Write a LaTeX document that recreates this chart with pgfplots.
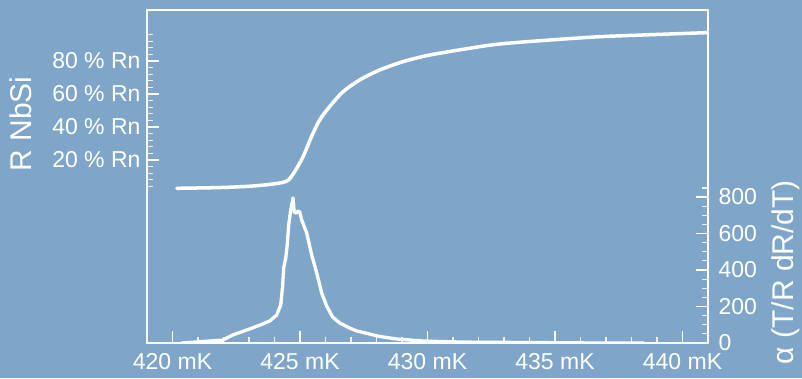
\documentclass[border=0pt]{standalone}
\usepackage{pgfplots}
\pgfplotsset{compat=1.18}
\usepackage{fontspec}
\setmainfont{Liberation Sans}
\definecolor{bg}{RGB}{127,166,201}
\begin{document}
\begin{tikzpicture}
\fill[bg] (0pt,0pt) rectangle (802pt,378pt);
\useasboundingbox (0pt,0pt) rectangle (802pt,378pt);
\pgfplotsset{
  common/.style={
    at={(147pt,35pt)}, anchor=south west, scale only axis,
    width=561pt, height=333pt,
    xmin=419, xmax=441,
    axis line style={white, line width=1.5pt},
    tick align=inside,
    major tick length=12pt, minor tick length=6pt,
    every major tick/.style={white, line width=1.5pt},
    every minor tick/.style={white!85!bg, line width=1.2pt},
    tick label style={white, font=\fontsize{23}{27}\selectfont},
  }
}
\begin{axis}[common,
  ymin=-90.9, ymax=110.9,
  xtick pos=lower, ytick pos=left,
  xtick={420,425,430,435,440},
  xticklabels={420 mK,425 mK,430 mK,435 mK,440 mK},
  minor xtick={421,422,423,424,426,427,428,429,431,432,433,434,436,437,438,439},
  ytick={20,40,60,80},
  yticklabels={20 \% Rn,40 \% Rn,60 \% Rn,80 \% Rn},
  minor ytick={4,8,12,16,24,28,32,36,44,48,52,56,64,68,72,76,84,88,92,96},
  xticklabel style={yshift=-7pt},
  yticklabel style={xshift=-3pt},
]
\addplot[white, line width=3.5pt, smooth, tension=0.5, line cap=round] coordinates {
(420.17,2.85) (421.85,3.3) (423.03,4.1) (423.81,5.2) (424.32,6.4) (424.55,7.9)
(424.79,12.9) (425.12,22.0) (425.45,34.1) (425.77,44.2) (426.16,52.3) (426.69,61.4)
(427.34,68.5) (428.12,74.5) (429.04,79.6) (430.08,83.6) (431.65,87.7) (432.83,90.3)
(434.78,92.7) (436.74,94.7) (438.70,95.9) (441.0,97.2)
};
\end{axis}
\begin{axis}[common,
  ymin=0, ymax=1825,
  axis x line=none, axis y line*=right,
  ytick={0,200,400,600,800},
  yticklabels={0,200,400,600,800},
  minor ytick={50,100,150,250,300,350,450,500,550,650,700,750,850},
  yticklabel style={xshift=7pt},
]
\addplot[white, line width=3.3pt, line join=round] coordinates {
(420.353,0) (421.071,7) (421.972,16) (422.363,44) (423.029,77) (423.538,104)
(423.813,121) (424.087,153) (424.244,208) (424.322,318) (424.361,411) (424.440,466)
(424.499,537) (424.557,647) (424.636,729) (424.726,795) (424.773,718) (424.859,712)
(424.922,723) (424.988,718) (425.067,674) (425.263,603) (425.459,482) (425.655,384)
(425.850,274) (426.046,203) (426.281,142) (426.555,110) (426.947,82) (427.222,66)
(427.731,49) (428.123,36) (428.789,22) (429.808,11) (431.376,5) (433.609,3)
(436.744,0) (438.5,0)
};
\end{axis}
\node[white, rotate=90, font=\fontsize{30}{36}\selectfont] at (21pt,254pt) {R NbSi};
\node[white, rotate=90, font=\fontsize{30}{36}\selectfont] at (786pt,106pt) {α (T/R dR/dT)};
\end{tikzpicture}
\end{document}
